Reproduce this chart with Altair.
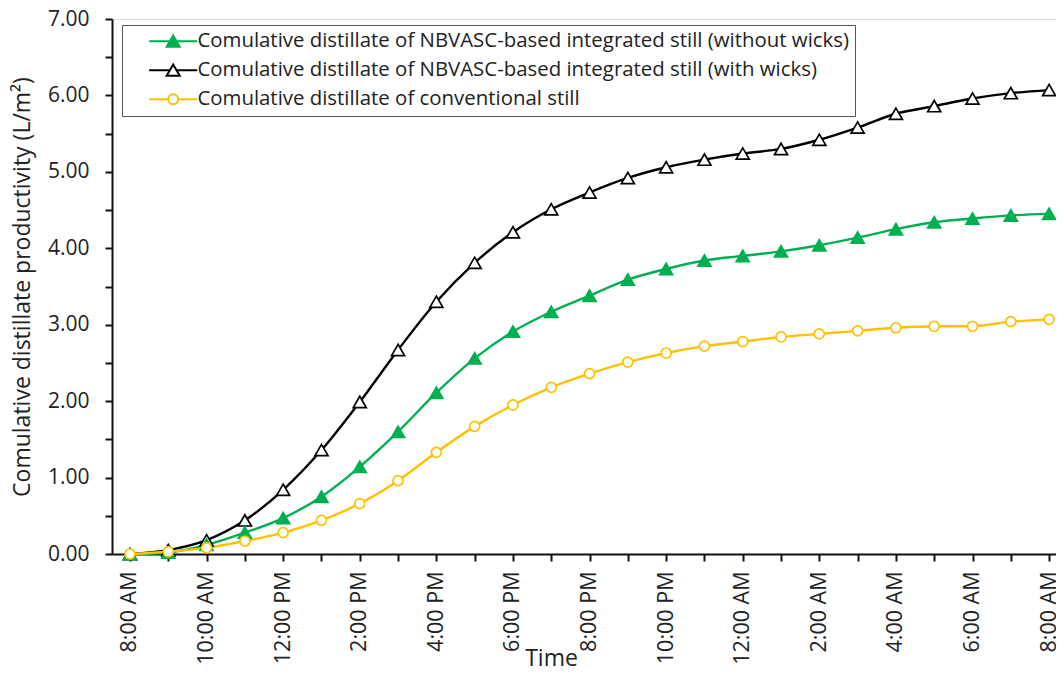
import altair as alt
import pandas as pd

hours = list(range(25))
time_labels = ["8:00 AM", "10:00 AM", "12:00 PM", "2:00 PM", "4:00 PM", "6:00 PM",
               "8:00 PM", "10:00 PM", "12:00 AM", "2:00 AM", "4:00 AM", "6:00 AM", "8:00 AM"]
series_names = [
    "Comulative distillate of NBVASC-based integrated still (without wicks)",
    "Comulative distillate of NBVASC-based integrated still (with wicks)",
    "Comulative distillate of conventional still",
]
without_wicks = [0.00, 0.02, 0.12, 0.28, 0.47, 0.75, 1.14, 1.60, 2.11, 2.56, 2.91, 3.17, 3.38,
                 3.59, 3.73, 3.84, 3.90, 3.96, 4.04, 4.14, 4.25, 4.34, 4.39, 4.43, 4.45]
with_wicks = [0.00, 0.05, 0.18, 0.44, 0.84, 1.36, 1.99, 2.67, 3.30, 3.81, 4.21, 4.51, 4.73,
              4.92, 5.06, 5.16, 5.24, 5.30, 5.42, 5.58, 5.76, 5.86, 5.96, 6.03, 6.07]
conventional = [0.00, 0.03, 0.08, 0.17, 0.28, 0.44, 0.66, 0.96, 1.33, 1.67, 1.95, 2.18, 2.36,
                2.51, 2.63, 2.72, 2.78, 2.84, 2.88, 2.92, 2.96, 2.98, 2.98, 3.04, 3.07]

colors = ["#00B050", "#000000", "#FFC000"]
fills = ["#00B050", "#FFFFFF", "#FFFFFF"]
marker_shapes = ["triangle-up", "triangle-up", "circle"]
marker_sizes = [169, 169, 100]
# legend symbols: line stub + marker (units of 7px for size 196)
legend_paths = [
    "M-3.43,0H-0.45M0.45,0H3.43M0,-0.8L0.93,0.8L-0.93,0.8Z",
    "M-3.43,0H-0.45M0.45,0H3.43M0,-0.8L0.93,0.8L-0.93,0.8Z",
    "M-3.43,0H-0.71M0.71,0H3.43M0.71,0A0.71,0.71,0,1,1,-0.71,0A0.71,0.71,0,1,1,0.71,0Z",
]

rows = []
for name, vals in zip(series_names, [without_wicks, with_wicks, conventional]):
    for h, v in zip(hours, vals):
        rows.append({"hour": h, "value": v, "series": name})
df = pd.DataFrame(rows)

FONT = "Open Sans"
TXT = "#222222"

label_arr = "[" + ",".join("'" + t + "'" for t in time_labels) + "]"

x_enc = alt.X(
    "hour:Q",
    scale=alt.Scale(domain=[-0.47, 24.18], nice=False, zero=False),
    axis=alt.Axis(
        values=hours,
        labelExpr=f"datum.value % 2 == 0 ? {label_arr}[datum.value / 2] : ''",
        labelAngle=-90,
        labelFont=FONT, labelFontSize=21.5, labelColor=TXT,
        labelPadding=10, labelOverlap=False, labelFlush=False, labelBound=False,
        tickSize=7, tickColor="#111", tickWidth=2,
        domainColor="#111", domainWidth=2, grid=False,
        title="Time", titleFont=FONT, titleFontSize=23, titleFontWeight="normal",
        titleColor=TXT, titleX=439, titleY=111, titleBaseline="alphabetic",
        titleAnchor="middle",
    ),
)
y_enc = alt.Y(
    "value:Q",
    scale=alt.Scale(domain=[0, 7], nice=False),
    axis=alt.Axis(
        values=[i * 0.5 for i in range(15)],
        labelExpr="datum.value % 1 == 0 ? format(datum.value, '.2f') : ''",
        labelFont=FONT, labelFontSize=21, labelColor=TXT, labelPadding=16,
        tickSize=7, tickColor="#111", tickWidth=2,
        domainColor="#111", domainWidth=2, grid=False,
        title="Comulative distillate productivity (L/m²)", titleFont=FONT,
        titleFontSize=23, titleFontWeight="normal", titleColor=TXT, titlePadding=13,
    ),
)

base = alt.Chart(df).encode(x=x_enc, y=y_enc)

order = [1, 0, 2]
line_layers = []
point_layers = []
for i in order:
    sub = base.transform_filter(alt.datum.series == series_names[i])
    line_layers.append(sub.mark_line(strokeWidth=2.4, interpolate="monotone", color=colors[i]))
    point_layers.append(
        sub.mark_point(
            shape=marker_shapes[i], size=marker_sizes[i], filled=True,
            fill=fills[i], stroke=colors[i], strokeWidth=1.7, opacity=1,
        )
    )

leg = alt.Legend(
    title=None, orient="none", legendX=10, legendY=6,
    labelFont=FONT, labelFontSize=20.4, labelColor=TXT, labelLimit=0,
    labelExpr="datum.label + '\u00a0\u00a0\u00a0'",
    symbolSize=196, symbolStrokeWidth=2, symbolOffset=35, labelOffset=14,
    rowPadding=8, padding=6, strokeColor="#555555", fillColor="#FFFFFF",
)
# legend-only layer: no rows pass the filter, the legend comes from the explicit scale domains
legend_layer = base.transform_filter("false").mark_point(
    size=196, strokeWidth=2, opacity=1, filled=False,
).encode(
    color=alt.Color("series:N", scale=alt.Scale(domain=series_names, range=colors), legend=leg),
    fill=alt.Fill("series:N", scale=alt.Scale(domain=series_names, range=fills), legend=leg),
    shape=alt.Shape("series:N", scale=alt.Scale(domain=series_names, range=legend_paths), legend=leg),
)

chart = alt.layer(*line_layers, *point_layers, legend_layer).properties(
    width=944, height=535,
    autosize=alt.AutoSizeParams(type="none"),
    padding={"left": 104, "top": 11, "right": 0, "bottom": 115},
).configure_view(stroke=None).configure(background="white")

chart.save("out.html", embed_options={"renderer": "svg", "actions": False})
